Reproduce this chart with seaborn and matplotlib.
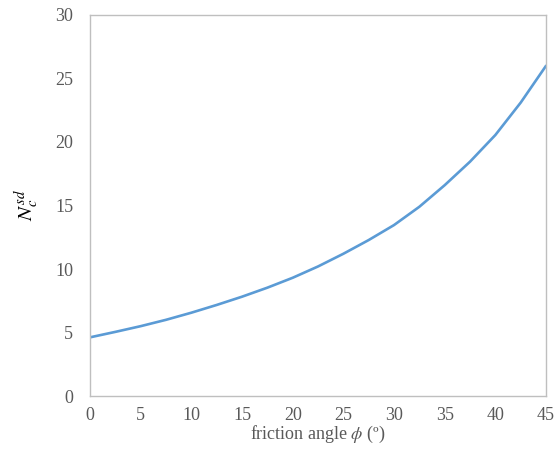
import matplotlib
matplotlib.use("Agg")
import matplotlib.pyplot as plt
import numpy as np
import pandas as pd
import seaborn as sns

# values
friction_angle = [0, 2.5, 5, 7.5, 10, 12.5, 15, 17.5, 20, 22.5,
                  25, 27.5, 30, 32.5, 35, 37.5, 40, 42.5, 45]
nc_sd = [4.62, 5.05, 5.5, 6.0, 6.56, 7.17, 7.82, 8.53, 9.31, 10.2,
         11.2, 12.28, 13.46, 14.9, 16.6, 18.45, 20.55, 23.1, 26.0]

x_ticks = [0, 5, 10, 15, 20, 25, 30, 35, 40, 45]
y_ticks = [0, 5, 10, 15, 20, 25, 30]

df = pd.DataFrame({"phi": friction_angle, "nc": nc_sd})

sns.set_style("white")
plt.rcParams["font.family"] = ["Liberation Serif", "DejaVu Serif"]
plt.rcParams["mathtext.fontset"] = "stix"

GRAY = "#595959"
SPINE = "#bfbfbf"

fig = plt.figure(figsize=(5.54, 4.68), dpi=100)
ax = fig.add_axes([0.1625, 0.1538, 0.8231, 0.8142])

sns.lineplot(data=df, x="phi", y="nc", color="#5b9bd5", linewidth=1.9, ax=ax)

ax.set_xlim(0, 45)
ax.set_ylim(0, 30)
ax.set_xticks(x_ticks)
ax.set_yticks(y_ticks)
ax.tick_params(axis="x", direction="in", length=4, width=1, color=SPINE,
               labelsize=13, labelcolor=GRAY, pad=8)
ax.tick_params(axis="y", direction="in", length=4, width=1, color=SPINE,
               labelsize=13, labelcolor=GRAY, pad=12)
for sp in ax.spines.values():
    sp.set_color(SPINE)
    sp.set_linewidth(1)

ax.set_xlabel(r"friction angle $\phi$ (º)", fontsize=13, color=GRAY, labelpad=0)
ax.set_ylabel(r"$N_c^{sd}$", fontsize=15, color="black", labelpad=10)

fig.savefig("out.png", dpi=100)
